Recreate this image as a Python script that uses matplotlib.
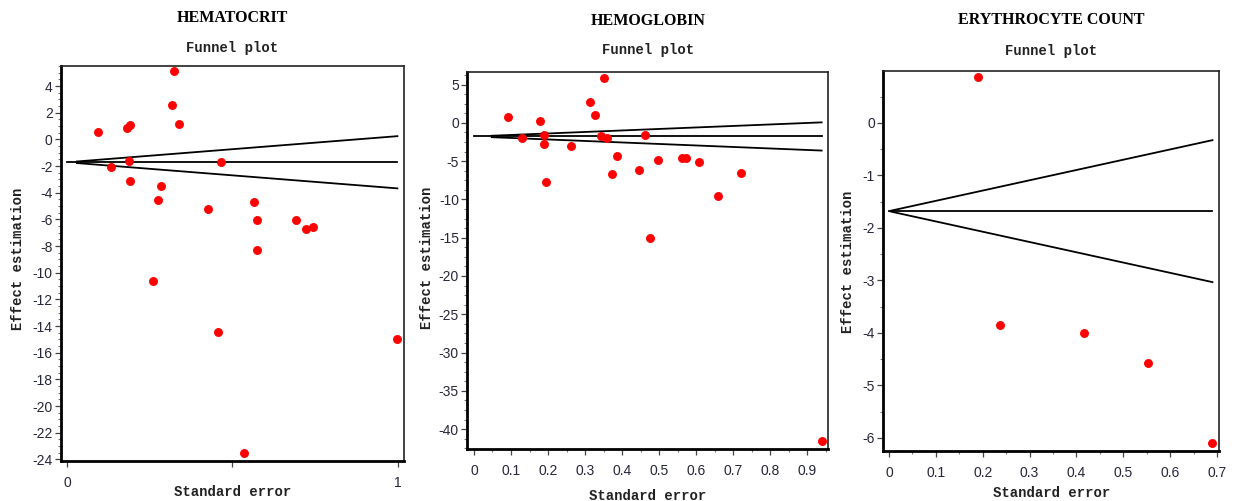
import matplotlib
matplotlib.use("Agg")
import matplotlib.pyplot as plt
from matplotlib.ticker import MultipleLocator, FixedLocator

plt.rcParams['axes.unicode_minus'] = False

# ---- data: standard error (x) and effect estimate (y) per study ----
hct_se = [0.094, 0.132, 0.183, 0.191, 0.188, 0.191, 0.323, 0.318, 0.338, 0.285,
          0.275, 0.465, 0.427, 0.566, 0.576, 0.693, 0.722, 0.743, 0.576, 0.260,
          0.458, 0.534, 0.999]
hct_eff = [0.52, -2.1, 0.85, 1.07, -1.6, -3.1, 5.1, 2.55, 1.15, -3.5,
           -4.58, -1.73, -5.23, -4.7, -6.08, -6.05, -6.73, -6.6, -8.3, -10.65,
           -14.48, -23.5, -15.0]
hct_pooled = -1.72

hgb_se = [0.091, 0.130, 0.179, 0.188, 0.189, 0.195, 0.261, 0.313, 0.326, 0.352,
          0.343, 0.360, 0.385, 0.374, 0.445, 0.463, 0.475, 0.498, 0.563, 0.574,
          0.609, 0.659, 0.720, 0.939]
hgb_eff = [0.70, -1.96, 0.18, -1.56, -2.82, -7.78, -3.0, 2.66, 1.04, 5.83,
           -1.73, -1.96, -4.39, -6.69, -6.17, -1.56, -15.0, -4.91, -4.56, -4.56,
           -5.13, -9.52, -6.52, -41.6]
hgb_pooled = -1.78

rbc_se = [0.191, 0.2375, 0.416, 0.552, 0.690]
rbc_eff = [0.877, -3.85, -4.0, -4.58, -6.10]
rbc_pooled = -1.68

titles = ["HEMATOCRIT", "HEMOGLOBIN", "ERYTHROCYTE COUNT"]
subtitle = "Funnel plot"
xlabel = "Standard error"
ylabel = "Effect estimation"

hct_xticks = [0, 0.5, 1]
hct_xticklabels = ["0", "", "1"]
hgb_xticks = [0, 0.1, 0.2, 0.3, 0.4, 0.5, 0.6, 0.7, 0.8, 0.9]
rbc_xticks = [0, 0.1, 0.2, 0.3, 0.4, 0.5, 0.6, 0.7]
hct_yticks = list(range(-24, 5, 2))
hgb_yticks = list(range(-40, 6, 5))
rbc_yticks = list(range(-6, 1, 1))

W, H = 1238, 501
fig = plt.figure(figsize=(W / 100, H / 100), dpi=100)
fig.patch.set_facecolor("white")

tick_family = ["Liberation Sans Narrow", "Liberation Sans", "DejaVu Sans"]
tick_size = 10
mono = ["Liberation Mono", "DejaVu Sans Mono"]
serif = ["Liberation Serif", "DejaVu Serif"]


def px_box(left, top, right, bottom):
    return [left / W, 1 - bottom / H, (right - left) / W, (bottom - top) / H]


panels = [
    dict(se=hct_se, eff=hct_eff, pooled=hct_pooled, box=(61, 66, 404, 460.7),
         xlim=(-0.018, 1.019), ylim=(-24.1, 5.5), xticks=hct_xticks,
         xticklabels=hct_xticklabels, xminor=None, yticks=hct_yticks, yminor=0.5,
         band_start=0.03, title_y=18, sub_y=48, xl_y=492, yl_x=18, yl_y=259),
    dict(se=hgb_se, eff=hgb_eff, pooled=hgb_pooled, box=(467.3, 72.3, 828.3, 449),
         xlim=(-0.018, 0.957), ylim=(-42.6, 6.6), xticks=hgb_xticks,
         xticklabels=None, xminor=0.05, yticks=hgb_yticks, yminor=1.25,
         band_start=0.048, title_y=21, sub_y=50, xl_y=496, yl_x=427, yl_y=258),
    dict(se=rbc_se, eff=rbc_eff, pooled=rbc_pooled, box=(883.3, 71, 1219, 451),
         xlim=(-0.012, 0.704), ylim=(-6.25, 0.99), xticks=rbc_xticks,
         xticklabels=None, xminor=0.05, yticks=rbc_yticks, yminor=0.5,
         band_start=0.005, title_y=20, sub_y=51, xl_y=493, yl_x=848, yl_y=262),
]

for p, title in zip(panels, titles):
    left, top, right, bottom = p["box"]
    ax = fig.add_axes(px_box(left, top, right, bottom))
    cx = (left + right) / 2

    # funnel: pooled estimate and 95% limits (pooled +/- 1.96 * SE)
    se_max = max(p["se"])
    ax.plot([0, se_max], [p["pooled"], p["pooled"]], color="black", lw=1.3, zorder=2)
    s0 = p["band_start"]
    ax.plot([s0, se_max], [p["pooled"] + 1.96 * s0, p["pooled"] + 1.96 * se_max],
            color="black", lw=1.3, zorder=2)
    ax.plot([s0, se_max], [p["pooled"] - 1.96 * s0, p["pooled"] - 1.96 * se_max],
            color="black", lw=1.3, zorder=2)

    ax.plot(p["se"], p["eff"], linestyle="none", marker="o", ms=5.8,
            mfc="#ff0000", mec="#ff0000", mew=0.6, zorder=3, clip_on=False)

    ax.set_xlim(*p["xlim"])
    ax.set_ylim(*p["ylim"])
    ax.xaxis.set_major_locator(FixedLocator(p["xticks"]))
    if p["xticklabels"] is not None:
        ax.set_xticklabels(p["xticklabels"])
    else:
        ax.set_xticklabels([f"{v:g}" for v in p["xticks"]])
    if p["xminor"]:
        ax.xaxis.set_minor_locator(MultipleLocator(p["xminor"]))
    ax.yaxis.set_major_locator(FixedLocator(p["yticks"]))
    ax.set_yticklabels([f"{v:g}" for v in p["yticks"]])
    ax.yaxis.set_minor_locator(MultipleLocator(p["yminor"]))

    ax.tick_params(axis="both", which="major", direction="out", length=4, width=0.9,
                   color="#444444", labelcolor="#26263a")
    ax.tick_params(axis="both", which="minor", direction="out", length=2, width=0.8,
                   color="#777777")
    ax.tick_params(axis="x", which="major", pad=7)
    ax.tick_params(axis="y", which="major", pad=2)
    for lab in ax.get_xticklabels() + ax.get_yticklabels():
        lab.set_fontfamily(tick_family)
        lab.set_fontsize(tick_size)

    for side in ("left", "bottom"):
        ax.spines[side].set_linewidth(2.0)
        ax.spines[side].set_color("black")
    for side in ("top", "right"):
        ax.spines[side].set_linewidth(1.2)
        ax.spines[side].set_color("#222222")

    fig.text(cx / W, 1 - p["title_y"] / H, title, ha="center", va="center",
             family=serif, weight="bold", fontsize=11.5)
    fig.text(cx / W, 1 - p["sub_y"] / H, subtitle, ha="center", va="center",
             family=mono, weight="bold", fontsize=10, color="#222222")
    fig.text(cx / W, 1 - p["xl_y"] / H, xlabel, ha="center", va="center",
             family=mono, weight="bold", fontsize=10, color="#222222")
    fig.text(p["yl_x"] / W, 1 - p["yl_y"] / H, ylabel, ha="center", va="center",
             rotation=90, family=mono, weight="bold", fontsize=10, color="#222222")

fig.savefig("out.png", dpi=100, facecolor="white")
